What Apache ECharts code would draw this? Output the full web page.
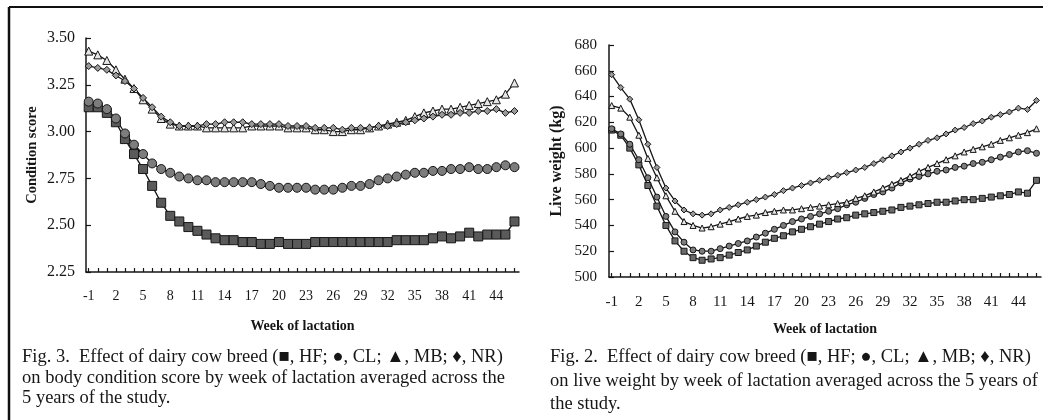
<!DOCTYPE html>
<html>
<head>
<meta charset="utf-8">
<title>Dairy cow breed by week of lactation</title>
<script src="https://cdn.jsdelivr.net/npm/echarts@6/dist/echarts.min.js"></script>
<style>
  html, body { margin: 0; padding: 0; background: #fff; }
  #main { width: 1043px; height: 420px; }
</style>
</head>
<body>
<div id="main"></div>
<script>
// week of lactation, one point per week
var weeks = [-1, 0, 1, 2, 3, 4, 5, 6, 7, 8, 9, 10, 11, 12, 13, 14, 15, 16, 17, 18, 19, 20, 21, 22, 23,
             24, 25, 26, 27, 28, 29, 30, 31, 32, 33, 34, 35, 36, 37, 38, 39, 40, 41, 42, 43, 44, 45, 46];
var weekLabels = [-1, 2, 5, 8, 11, 14, 17, 20, 23, 26, 29, 32, 35, 38, 41, 44];

// Fig. 3 - body condition score
var scoreHF = [3.13, 3.13, 3.10, 3.05, 2.96, 2.88, 2.80, 2.71, 2.62, 2.55, 2.52, 2.49, 2.47, 2.45, 2.43, 2.42,
               2.42, 2.41, 2.41, 2.40, 2.40, 2.41, 2.40, 2.40, 2.40, 2.41, 2.41, 2.41, 2.41, 2.41, 2.41, 2.41,
               2.41, 2.41, 2.42, 2.42, 2.42, 2.42, 2.43, 2.44, 2.43, 2.44, 2.46, 2.44, 2.45, 2.45, 2.45, 2.52];
var scoreCL = [3.16, 3.15, 3.12, 3.07, 2.99, 2.93, 2.88, 2.83, 2.80, 2.78, 2.76, 2.75, 2.74, 2.74, 2.73, 2.73,
               2.73, 2.73, 2.73, 2.72, 2.71, 2.70, 2.70, 2.70, 2.70, 2.69, 2.69, 2.69, 2.70, 2.71, 2.71, 2.72,
               2.74, 2.75, 2.76, 2.77, 2.78, 2.78, 2.79, 2.79, 2.80, 2.80, 2.81, 2.80, 2.80, 2.81, 2.82, 2.81];
var scoreMB = [3.43, 3.41, 3.38, 3.33, 3.28, 3.23, 3.17, 3.12, 3.07, 3.04, 3.03, 3.03, 3.03, 3.02, 3.02, 3.02,
               3.02, 3.02, 3.03, 3.03, 3.03, 3.03, 3.02, 3.02, 3.02, 3.01, 3.01, 3.00, 3.00, 3.01, 3.01, 3.02,
               3.03, 3.04, 3.05, 3.06, 3.08, 3.10, 3.11, 3.12, 3.12, 3.13, 3.14, 3.15, 3.16, 3.17, 3.20, 3.26];
var scoreNR = [3.35, 3.34, 3.33, 3.30, 3.27, 3.23, 3.18, 3.13, 3.08, 3.05, 3.03, 3.03, 3.03, 3.04, 3.04, 3.05,
               3.05, 3.05, 3.04, 3.04, 3.04, 3.04, 3.03, 3.03, 3.03, 3.02, 3.02, 3.02, 3.01, 3.02, 3.02, 3.02,
               3.03, 3.03, 3.04, 3.05, 3.06, 3.07, 3.08, 3.09, 3.09, 3.10, 3.10, 3.11, 3.11, 3.12, 3.10, 3.11];

// Fig. 2 - live weight (kg)
var weightHF = [614, 610, 600, 587, 571, 555, 540, 528, 520, 515, 513, 514, 515, 517, 519, 521,
                524, 527, 530, 532, 535, 537, 539, 541, 543, 545, 546, 548, 549, 550, 551, 552,
                554, 555, 556, 557, 558, 558, 559, 560, 560, 561, 562, 563, 564, 566, 565, 575];
var weightCL = [615, 611, 603, 591, 577, 562, 547, 535, 527, 521, 520, 520, 522, 524, 526, 528,
                531, 534, 537, 540, 543, 545, 547, 549, 551, 553, 556, 558, 561, 564, 566, 569,
                573, 576, 578, 580, 582, 583, 585, 586, 588, 589, 591, 593, 595, 597, 598, 596];
var weightMB = [633, 631, 624, 610, 592, 577, 563, 551, 543, 540, 538, 539, 541, 543, 545, 547,
                548, 550, 551, 552, 552, 553, 554, 555, 556, 557, 558, 561, 563, 566, 569, 572,
                575, 578, 582, 585, 588, 591, 594, 597, 599, 601, 603, 606, 608, 610, 612, 615];
var weightNR = [657, 647, 638, 622, 603, 585, 569, 559, 552, 549, 548, 549, 552, 554, 556, 558,
                560, 562, 564, 567, 569, 571, 573, 575, 577, 579, 581, 583, 585, 588, 591, 594,
                597, 600, 603, 606, 608, 611, 614, 616, 619, 621, 624, 626, 628, 631, 630, 637];

var ink = '#161616';
var serif = '"Liberation Serif", "DejaVu Serif", serif';

function pairs(ys) {
  return weeks.map(function (w, i) { return [w, ys[i]]; });
}

function breed(name, ys, idx, symbol, fill, size) {
  return {
    name: name, type: 'line', xAxisIndex: idx, yAxisIndex: idx,
    data: pairs(ys), symbol: symbol, symbolSize: size, showSymbol: true,
    lineStyle: { color: ink, width: 1.3 },
    itemStyle: { color: fill, borderColor: ink, borderWidth: 1 },
    emphasis: { disabled: true }, animation: false, z: 3
  };
}

function weekAxis(idx, fontSize, margin, gap) {
  return {
    type: 'value', gridIndex: idx, min: -1.3, max: 46.5,
    axisLine: { show: true, onZero: false, lineStyle: { color: ink, width: 1.5 } },
    axisTick: { show: true, inside: true, length: 4, customValues: weeks, lineStyle: { color: ink, width: 1.2 } },
    axisLabel: { customValues: weekLabels, color: ink, fontFamily: serif, fontSize: fontSize, margin: margin },
    splitLine: { show: false },
    name: 'Week of lactation', nameLocation: 'middle', nameGap: gap,
    nameTextStyle: { color: ink, fontFamily: serif, fontSize: 14, fontWeight: 'bold' }
  };
}

function valueAxis(idx, min, max, step, digits, title, fontSize, margin, titleSize, gap) {
  return {
    type: 'value', gridIndex: idx, min: min, max: max, interval: step,
    axisLine: { show: true, onZero: false, lineStyle: { color: ink, width: 1.5 } },
    axisTick: { show: true, inside: true, length: 5, lineStyle: { color: ink, width: 1.2 } },
    axisLabel: { color: ink, fontFamily: serif, fontSize: fontSize, margin: margin,
                 formatter: function (v) { return v.toFixed(digits); } },
    splitLine: { show: false },
    name: title, nameLocation: 'middle', nameGap: gap, nameRotate: 90,
    nameTextStyle: { color: ink, fontFamily: serif, fontSize: titleSize, fontWeight: 'bold' }
  };
}

function caption(x, y, text) {
  return { type: 'text', left: x, top: y, silent: true,
           style: { text: text, fill: ink, font: '18.5px ' + serif, textVerticalAlign: 'middle' } };
}

var chart = echarts.init(document.getElementById('main'), null, { renderer: 'canvas' });
chart.setOption({
  backgroundColor: '#fff',
  animation: false,
  grid: [
    { left: 86, top: 38, width: 433, height: 234, containLabel: false, outerBoundsMode: 'none' },
    { left: 609, top: 45, width: 432, height: 232, containLabel: false, outerBoundsMode: 'none' }
  ],
  xAxis: [weekAxis(0, 14, 17, 47), weekAxis(1, 15, 18, 45)],
  yAxis: [
    valueAxis(0, 2.25, 3.5, 0.25, 2, 'Condition score', 16, 11, 14.5, 46),
    valueAxis(1, 500, 680, 20, 0, 'Live weight (kg)', 15, 12, 16, 44)
  ],
  series: [
    breed('HF', scoreHF, 0, 'rect', '#5a5a5a', 9),
    breed('CL', scoreCL, 0, 'circle', '#7d7d7d', 9),
    breed('MB', scoreMB, 0, 'triangle', '#e6e6e6', 8),
    breed('NR', scoreNR, 0, 'diamond', '#9a9a9a', 7),
    breed('HF', weightHF, 1, 'rect', '#6a6a6a', 6),
    breed('CL', weightCL, 1, 'circle', '#7d7d7d', 6),
    breed('MB', weightMB, 1, 'triangle', '#e6e6e6', 6),
    breed('NR', weightNR, 1, 'diamond', '#9a9a9a', 6)
  ],
  graphic: [
    { type: 'line', silent: true, shape: { x1: 9, y1: 7, x2: 1043, y2: 7 }, style: { stroke: '#111', lineWidth: 2 } },
    { type: 'line', silent: true, shape: { x1: 9, y1: 7, x2: 9, y2: 420 }, style: { stroke: '#111', lineWidth: 2.5 } },
    caption(22, 348, 'Fig. 3.  Effect of dairy cow breed (\u25A0, HF; \u25CF, CL; \u25B2, MB; \u2666, NR)'),
    caption(22, 369, 'on body condition score by week of lactation averaged across the'),
    caption(22, 389, '5 years of the study.'),
    caption(550, 348, 'Fig. 2.  Effect of dairy cow breed (\u25A0, HF; \u25CF, CL; \u25B2, MB; \u2666, NR)'),
    caption(550, 372, 'on live weight by week of lactation averaged across the 5 years of'),
    caption(550, 395, 'the study.')
  ]
});
</script>
</body>
</html>
